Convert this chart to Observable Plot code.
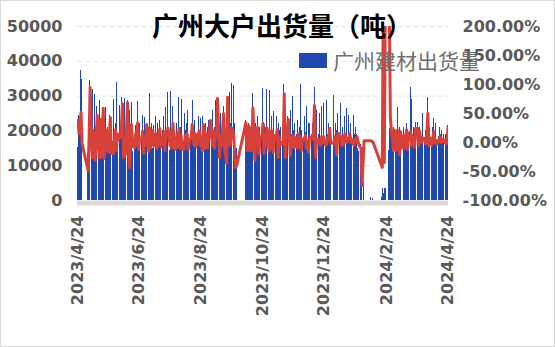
<!DOCTYPE html>
<html>
<head>
<meta charset="utf-8">
<script src="https://cdn.jsdelivr.net/npm/d3@7"></script>
<script src="https://cdn.jsdelivr.net/npm/@observablehq/plot@0.6"></script>
<style>
  html, body { margin: 0; padding: 0; background: #fff; }
  #wrap { position: relative; width: 555px; height: 347px; overflow: hidden; background: #fff; }
  #wrap svg { position: absolute; left: 0; top: 0; }
  #frame { position: absolute; left: 0; top: 0; width: 555px; height: 347px; box-sizing: border-box; border: 1px solid #d9d9d9; pointer-events: none; }
  #title { position: absolute; left: 152px; top: 10px; font-family: "Noto Sans CJK SC"; font-weight: bold; font-size: 26px; line-height: 30px; color: #000; white-space: nowrap; }
  #legend { position: absolute; left: 299px; top: 46px; display: flex; align-items: center; white-space: nowrap; }
  #legend .sw { width: 28px; height: 15px; background: #2148AB; margin-right: 6px; }
  #legend .lb { font-family: "Noto Sans CJK SC"; font-size: 21px; line-height: 28px; color: #6f6f6f; }
</style>
</head>
<body>
<div id="wrap"></div>
<script>
// ---- data ----
const titleText = "广州大户出货量（吨）";
const seriesName = "广州建材出货量";
const startDate = "2023-04-24";
const endDate = "2024-04-25";
const xTickLabels = ["2023-04-24", "2023-06-24", "2023-08-24", "2023-10-24", "2023-12-24", "2024-02-24", "2024-04-24"];
const leftTicks = [0, 10000, 20000, 30000, 40000, 50000];
const rightTicks = [-100, -50, 0, 50, 100, 150, 200];

// daily shipments (tonnes), one row per week Mon..Sun, null = no data
const shipments = [
  [15200, 24500, 19000, 37400, 34800, null, null],
  [null, null, null, 13500, 21000, 34500, null],
  [17000, 31900, 19500, 30500, 21000, 27000, null],
  [19000, 28700, 14500, 22000, 24000, 18500, null],
  [26700, 19000, 21000, 14000, 24400, 19500, null],
  [17000, 29000, 20500, 22000, 33900, 19000, null],
  [27300, 18500, 29600, 21000, 29300, 14500, null],
  [28700, 19000, 25900, 20000, 28200, 14000, null],
  [18000, 21600, 20000, 28400, 15500, 22000, null],
  [19500, 24400, 15000, 23900, 20000, 21000, null],
  [18000, 30700, 21000, 22100, 15000, 21500, null],
  [24000, 19000, 22000, 15500, 23000, 20000, null],
  [20000, 24100, 15000, 26700, 19500, 31000, null],
  [14500, 31300, 20500, 27000, 21000, 18000, null],
  [22000, 19500, 29600, 16000, 21000, 29000, null],
  [17000, 25000, 20000, 22000, 26000, 15000, null],
  [19000, 22000, 28700, 17500, 23000, 19000, null],
  [19000, 24000, 16000, 23500, 18500, 24000, null],
  [18500, 22000, 15500, 21000, 23000, 20000, null],
  [17500, 26000, 19500, 21000, 28700, 29600, null],
  [16000, 25000, 20000, 21500, 27000, 19000, null],
  [14000, 27000, 21000, 31000, 22000, 33600, null],
  [33000, 22000, 14500, 15000, null, null, null],
  [null, null, null, null, null, 23000, 18000],
  [19000, 22000, 16000, 21000, 18000, 30700, null],
  [15500, 22000, 20000, 24000, 19000, 21000, null],
  [19000, 32200, 16000, 21500, 21000, 32000, null],
  [18000, 31500, 20000, 24000, 16000, 25500, null],
  [19000, 24000, 15500, 22000, 20000, 21000, null],
  [17000, 33400, 19000, 23000, 18000, 24000, null],
  [16500, 26000, 19000, 30000, 20000, 22000, null],
  [19000, 23000, 17500, 21000, 33400, 20000, null],
  [18000, 24000, 19500, 27000, 16000, 22000, null],
  [19000, 22000, 20500, 32500, 15500, 26000, null],
  [19000, 25000, 18000, 27000, 17500, 27900, null],
  [17000, 28700, 19000, 22000, 20000, 21000, null],
  [null, 30200, 18500, 22000, 20000, 25000, null],
  [19000, 28000, 17500, 21000, 18500, 24000, null],
  [26400, 18000, 24500, 19000, 22000, 18000, null],
  [24400, 19000, 21000, 19000, 15000, 14000, null],
  [16000, 5200, null, 5300, null, null, null],
  [null, null, null, 800, null, 600, null],
  [null, null, null, null, null, null, null],
  [1000, 3400, 2000, 3400, 3500, null, null],
  [14400, 20600, 23800, 19000, 16500, 21000, null],
  [18000, 20000, 26700, 16000, 21000, 18000, null],
  [21000, 18000, 20000, 22000, 17000, 19500, null],
  [32500, 29000, 19000, 21000, 17500, 22400, null],
  [22400, 17500, 21000, 19000, 18500, 25000, null],
  [18000, 20000, 17000, 29600, 19000, 21000, null],
  [17500, 21000, 23600, 18500, 22000, 17500, null],
  [18500, 21000, 19000, 20000, 17000, 19000, null],
  [19000, 18000, 21600]
];

// daily change (%), same layout
const changes = [
  [38, 15, 30, 52, -2, null, null],
  [null, null, null, -48, 10, 95, null],
  [-26, 21, 0, -31, 5, 47, null],
  [-26, 40, -25, 10, 59, -28, null],
  [21, -5, -17, 10, 43, -19, null],
  [-19, 5, 22, -14, 15, 5, null],
  [10, 30, 67, -26, 0, -20, null],
  [69, -10, -43, 5, 31, -5, null],
  [-9, 15, -5, 34, -12, 8, null],
  [5, 20, -19, 10, -5, 31, null],
  [-15, 25, -9, 10, 21, -5, null],
  [15, -10, 0, 12, 24, -8, null],
  [5, 18, -14, 20, 10, 25, null],
  [-5, 20, -10, 33, -5, -12, null],
  [15, -8, 24, -10, 12, -12, null],
  [-12, 12, 5, 15, -12, 0, null],
  [10, 31, 8, -5, 15, -8, null],
  [14, 20, -5, 10, -15, 31, null],
  [-10, 15, -9, 5, 12, 38, null],
  [-5, 20, -10, 15, 10, 76, null],
  [-26, 10, -5, 20, 50, -10, null],
  [-36, 78, 10, -5, 0, 25, null],
  [15, -20, -43, -40, null, null, null],
  [null, null, null, null, null, 34, -14],
  [0, 29, -14, 20, -14, 60, null],
  [-31, 26, -10, 26, -20, 10, null],
  [10, 33, -19, 15, -5, 25, null],
  [-15, 20, -10, 20, -17, 12, null],
  [5, 22, -26, 10, -5, 0, null],
  [-2, 84, -26, 5, 15, 40, null],
  [-22, 10, -5, 12, -9, 8, null],
  [-9, 15, -8, 10, -14, 5, null],
  [5, 12, -10, 2, -17, 8, null],
  [10, 5, 20, 64, -26, 5, null],
  [5, 0, -5, 10, 0, 10, null],
  [-5, -2, 8, 10, 24, 0, null],
  [null, -2, 10, -5, -21, 15, null],
  [15, 5, -5, 10, -3, 15, null],
  [0, 5, 8, 15, 0, 5, null],
  [-5, 5, 0, 10, 3, -5, null],
  [-10, -74, null, 3, null, null, null],
  [null, null, null, 3, null, 0, null],
  [null, null, null, null, null, null, null],
  [-43, 260, -35, 240, 260, null, null],
  [230, 43, 21, 5, -14, 21, null],
  [-14, 21, 5, -21, 19, -10, null],
  [12, -10, 5, 22, -12, 10, null],
  [19, -5, 3, 10, -8, 24, null],
  [24, -5, 19, 5, 0, 8, null],
  [5, -2, 10, 50, -5, 8, null],
  [-5, 8, 19, 0, 2, -3, null],
  [5, 10, 0, 6, 2, 4, null],
  [-2, 0, 26]
];

// ---- build ----
const parse = d3.utcParse("%Y-%m-%d");
const start = parse(startDate), end = parse(endDate);
const rows = [];
shipments.forEach((week, w) => week.forEach((v, k) => {
  rows.push({date: d3.utcDay.offset(start, w * 7 + k), value: v, pct: changes[w][k]});
}));
const bars = rows.filter(d => d.value != null);
const line = rows.filter(d => d.pct != null);
// right axis (-100%..200%) mapped onto left axis (0..50000)
const toLeft = p => (p + 100) / 300 * 50000;

const chart = Plot.plot({
  width: 555, height: 347,
  marginLeft: 77, marginRight: 107, marginTop: 26, marginBottom: 147,
  style: {fontFamily: "DejaVu Sans", fontSize: "16px", fontWeight: "bold", color: "#595959", background: "transparent", overflow: "visible"},
  x: {type: "utc", domain: [start, end], ticks: xTickLabels.map(parse), tickFormat: d3.utcFormat("%Y/%-m/%-d"), tickRotate: -90, tickSize: 0, tickPadding: 15, label: null},
  y: {domain: [0, 50000], ticks: leftTicks, tickFormat: d => String(d), tickSize: 0, tickPadding: 15, label: null},
  marks: [
    Plot.ruleY(leftTicks.slice(1), {stroke: "#e4e4e4", strokeDasharray: "5,3", strokeWidth: 1}),
    Plot.rectY(bars, {x: "date", y: "value", interval: d3.utcDay, fill: "#2148AB", inset: 0, shapeRendering: "crispEdges"}),
    Plot.ruleY([0], {stroke: "#d9d9d9", strokeWidth: 5, dy: 2.5}),
    Plot.lineY(line, {x: "date", y: d => toLeft(d.pct), stroke: "#D8403A", strokeWidth: 3, dx: 0.5, clip: true, strokeLinejoin: "round"}),
    Plot.text(rightTicks, {y: d => toLeft(d), text: d => d.toFixed(2) + "%", frameAnchor: "right", textAnchor: "start", dx: 14, fill: "#595959"})
  ]
});

const wrap = document.getElementById("wrap");
wrap.appendChild(chart);
const legend = document.createElement("div");
legend.id = "legend";
legend.innerHTML = `<div class="sw"></div><div class="lb"></div>`;
legend.querySelector(".lb").textContent = seriesName;
wrap.appendChild(legend);
const title = document.createElement("div");
title.id = "title";
title.textContent = titleText;
wrap.appendChild(title);
const frame = document.createElement("div");
frame.id = "frame";
wrap.appendChild(frame);
</script>
</body>
</html>
